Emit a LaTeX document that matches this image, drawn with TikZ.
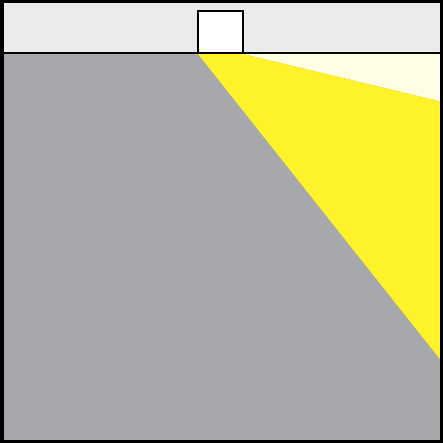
\documentclass[tikz,border=0pt]{standalone}
\usetikzlibrary{calc}
\definecolor{stripgray}{HTML}{EBEBEB}
\definecolor{wallgray}{HTML}{A6A8AB}
\definecolor{lightyellow}{HTML}{FFF22A}
\definecolor{paleyellow}{HTML}{FFFDE3}
\tikzset{
    strip/.style = {
        fill = stripgray,
        },
    wall/.style = {
        fill = wallgray,
        },
    beam/.style = {
        fill = lightyellow,
        },
    glow/.style = {
        fill = paleyellow,
        },
    window/.style = {
        draw = black,
        fill = white,
        line width = 2pt,
        },
    frame/.style = {
        draw = black,
        line width = 3.5pt,
        },
}
\begin{document}
\begin{tikzpicture}[x=1pt,y=-1pt]
            \useasboundingbox (0,0) rectangle (443,443);
            \coordinate (TL) at (0,0);
            \coordinate (BR) at (443,443);
            \coordinate (LS) at (198,54);
            \coordinate (RS) at (243,54);

            \fill[strip] (0,0) rectangle (443,54);
            \fill[wall] (0,54) rectangle (443,443);
            \fill[glow] (RS) -- (443,54) -- (443,102) -- cycle;
            \fill[beam] (LS) -- (RS) -- (443,102) -- (443,363) -- cycle;

            \draw[line width=2pt] (0,53.5) -- (443,53.5);
            \draw[window] (198,11) rectangle (243,53.5);
            \draw[frame] ($(TL)+(1.75,1.75)$) rectangle ($(BR)-(1.75,1.75)$);
        \end{tikzpicture}
\end{document}
